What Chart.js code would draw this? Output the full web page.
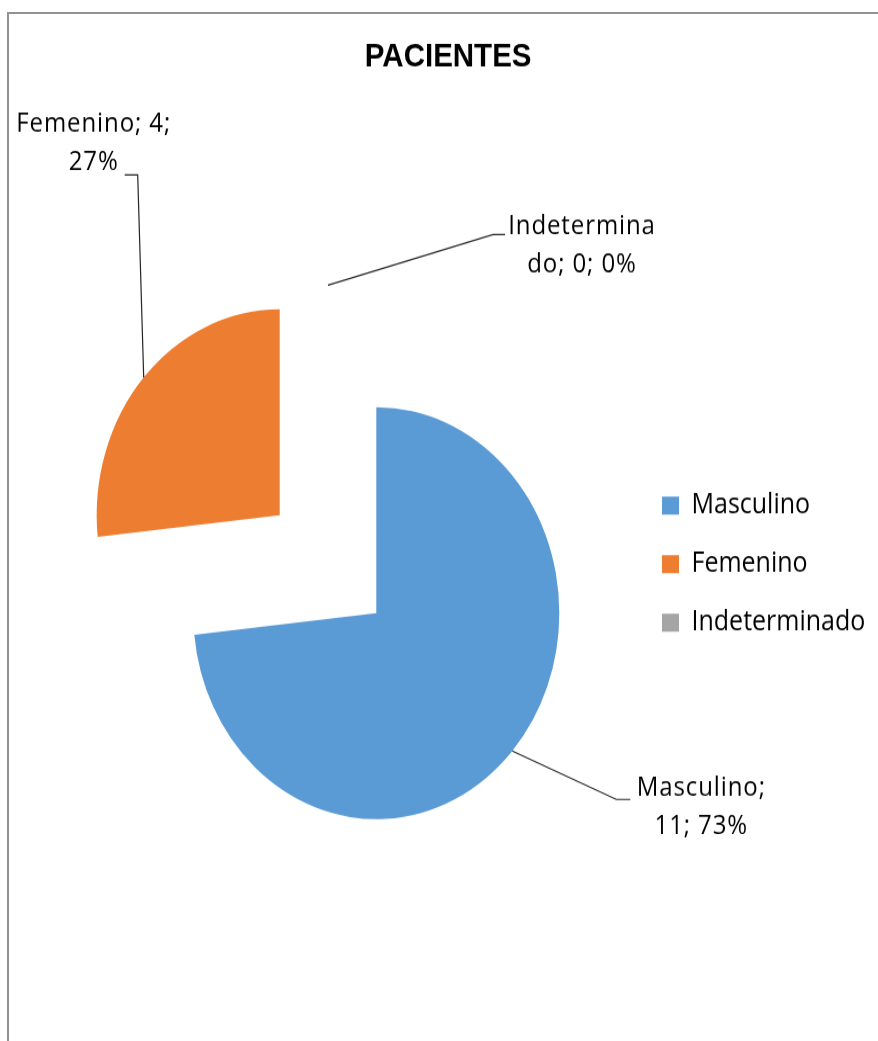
<!DOCTYPE html>
<html>
<head>
<meta charset="utf-8">
<script src="https://cdn.jsdelivr.net/npm/chart.js@4.4.1/dist/chart.umd.min.js"></script>
<style>
  html, body { margin: 0; padding: 0; background: #fff; overflow: hidden; }
  #frame { position: absolute; left: 7px; top: 12px; width: 900px; height: 1100px;
           border-left: 2px solid #929292; border-top: 2px solid #929292; }
  /* the source picture is stretched vertically, so the pie reads as an ellipse */
  #wrap { position: absolute; left: 0; top: 0; width: 878px; height: 925px;
          transform: scaleY(1.1255); transform-origin: 0 0; }
</style>
</head>
<body>
<div id="frame"></div>
<div id="wrap"><canvas id="pie" width="878" height="925"></canvas></div>
<script>
const categories = ["Masculino", "Femenino", "Indeterminado"];
const pacientes = [11, 4, 0];
const colors = ["#5B9BD5", "#ED7D31", "#A5A5A5"];

const PIE_RADIUS = 183;
const EXPLODE = 65;
const LABEL_FONT = "24px 'Open Sans', sans-serif";
const LEGEND_SIZE = 25;

// leader line elbow, line end and first text line centre, relative to the slice anchor
const labelPlacement = [
  { elbow: [104, 43], end: [118, 43], text: [189, 33] },
  { elbow: [-6, -180], end: [-19, -180], text: [-50, -225] },
  { elbow: [165, -45], end: [177, -45], text: [254, -52] },
];

// legend width -> right padding so the legend boxes land where they should
const m = document.createElement("canvas").getContext("2d");
m.font = LEGEND_SIZE + "px 'Open Sans', sans-serif";
const longest = Math.max(...categories.map(c => m.measureText(c).width));
const legendWidth = 27 + 17 + LEGEND_SIZE / 2 + longest + 10;
const padRight = Math.max(0, 878 - 635 - legendWidth);

function wrap(ctx, text, maxW) {
  const lines = [];
  let line = "";
  for (const word of text.split(" ")) {
    const tryLine = line ? line + " " + word : word;
    if (ctx.measureText(tryLine).width <= maxW) { line = tryLine; continue; }
    if (line) { lines.push(line); line = ""; }
    let w = word;
    while (ctx.measureText(w).width > maxW) {
      let n = w.length;
      while (n > 1 && ctx.measureText(w.slice(0, n)).width > maxW) n--;
      lines.push(w.slice(0, n));
      w = w.slice(n);
    }
    line = w;
  }
  if (line) lines.push(line);
  return lines;
}

// pull every slice out along its middle angle (chart.js' own offset also
// shrinks big slices, so the arcs are translated here instead)
const explode = {
  id: "explode",
  afterDatasetUpdate(chart, args) {
    args.meta.data.forEach(arc => {
      if (arc._exploded) return;
      const baseDraw = arc.draw;
      arc.draw = function (ctx) {
        const mid = (this.startAngle + this.endAngle) / 2;
        ctx.save();
        ctx.translate(Math.cos(mid) * EXPLODE, Math.sin(mid) * EXPLODE);
        baseDraw.call(this, ctx);
        ctx.restore();
      };
      arc._exploded = true;
    });
  }
};

const leaderLabels = {
  id: "leaderLabels",
  afterDatasetsDraw(chart) {
    const ctx = chart.ctx;
    const meta = chart.getDatasetMeta(0);
    const total = pacientes.reduce((a, b) => a + b, 0);
    ctx.save();
    ctx.font = LABEL_FONT;
    ctx.fillStyle = "#000";
    ctx.strokeStyle = "#262626";
    ctx.lineWidth = 1.2;
    ctx.textAlign = "center";
    ctx.textBaseline = "middle";
    meta.data.forEach((arc, i) => {
      const mid = (arc.startAngle + arc.endAngle) / 2;
      const ax = arc.x + Math.cos(mid) * (PIE_RADIUS + EXPLODE);
      const ay = arc.y + Math.sin(mid) * (PIE_RADIUS + EXPLODE);
      const p = labelPlacement[i];
      ctx.beginPath();
      ctx.moveTo(ax, ay);
      ctx.lineTo(ax + p.elbow[0], ay + p.elbow[1]);
      ctx.lineTo(ax + p.end[0], ay + p.end[1]);
      ctx.stroke();
      const pct = Math.round(pacientes[i] / total * 100);
      ctx.letterSpacing = "0px";
      const lines = wrap(ctx, categories[i] + "; " + pacientes[i] + "; " + pct + "%", 149);
      ctx.letterSpacing = "0.9px";
      lines.forEach((ln, k) => ctx.fillText(ln, ax + p.text[0], ay + p.text[1] + k * 34.3));
    });
    ctx.restore();
  }
};

new Chart(document.getElementById("pie"), {
  type: "pie",
  data: {
    labels: categories,
    datasets: [{
      data: pacientes,
      backgroundColor: colors,
      borderWidth: 0,
      radius: PIE_RADIUS,
      clip: false,
    }],
  },
  options: {
    responsive: false,
    animation: false,
    layout: { padding: { left: 21, right: padRight, top: 0, bottom: 0 } },
    plugins: {
      title: {
        display: true,
        text: "PACIENTES",
        color: "#000",
        font: { family: "'Liberation Sans', Arial, sans-serif", size: 29.5, weight: "bold" },
        padding: { top: 33.5, bottom: 8.7 },
      },
      legend: {
        position: "right",
        fullSize: false,
        labels: {
          boxWidth: 17,
          boxHeight: 16,
          padding: 27,
          color: "#000",
          font: { family: "'Open Sans', sans-serif", size: LEGEND_SIZE },
        },
      },
      tooltip: { enabled: false },
    },
  },
  plugins: [explode, leaderLabels],
});
</script>
</body>
</html>
